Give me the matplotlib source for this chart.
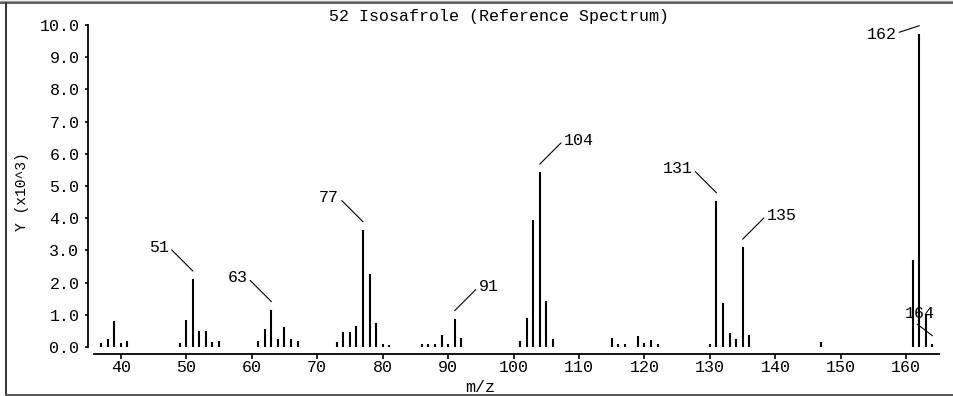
import matplotlib
matplotlib.use('Agg')
import matplotlib.pyplot as plt
import matplotlib.transforms as mtransforms
from matplotlib.lines import Line2D

# peaks (intensity in units of 10^3)
mz = [37, 38, 39, 40, 41,
      49, 50, 51, 52, 53, 54, 55,
      61, 62, 63, 64, 65, 66, 67,
      73, 74, 75, 76, 77, 78, 79, 80, 81,
      86, 87, 88, 89, 90, 91, 92,
      101, 102, 103, 104, 105, 106,
      115, 116, 117, 119, 120, 121, 122,
      130, 131, 132, 133, 134, 135, 136,
      147,
      161, 162, 163, 164]
intensity = [0.12, 0.25, 0.80, 0.12, 0.20,
             0.12, 0.85, 2.11, 0.49, 0.49, 0.15, 0.20,
             0.20, 0.56, 1.16, 0.25, 0.61, 0.25, 0.20,
             0.16, 0.47, 0.47, 0.65, 3.64, 2.26, 0.75, 0.10, 0.05,
             0.10, 0.10, 0.10, 0.36, 0.10, 0.88, 0.29,
             0.18, 0.90, 3.95, 5.43, 1.44, 0.25,
             0.28, 0.10, 0.10, 0.35, 0.13, 0.23, 0.10,
             0.10, 4.54, 1.38, 0.42, 0.24, 3.10, 0.36,
             0.16,
             2.69, 9.73, 1.03, 0.10]

labelled = [51, 63, 77, 91, 104, 131, 135, 162, 164]
title = '52 Isosafrole (Reference Spectrum)'
xticks = list(range(40, 161, 10))
yticks = list(range(0, 11))

# label placement: offset in pixels from anchor, alignment, where the leader starts
label_style = {
    51: (-24, 24, 'right', (1, 0.5)),
    63: (-24, 24, 'right', (1, 0.5)),
    77: (-24, 24, 'right', (1, 0.5)),
    91: (24, 24, 'left', (0, 0.5)),
    104: (24, 24, 'left', (0, 0.5)),
    131: (-24, 24, 'right', (1, 0.5)),
    135: (24, 24, 'left', (0, 0.5)),
    162: (-23, -9, 'right', (1, 0.6)),
    164: (-13, 22, 'center', (0.3, 0.0)),
}

plt.rcParams['font.family'] = 'Liberation Mono'
plt.rcParams['font.size'] = 12

W, H = 954, 396
fig = plt.figure(figsize=(W / 100, H / 100), dpi=100)
ax = fig.add_axes([94 / W, (H - 347) / H, 845 / W, 322 / H])

ax.vlines(mz, 0, intensity, color='black', lw=1.5)

ax.set_xlim(35.9, 165.0)
ax.set_ylim(0, 10)
ax.set_xticks(xticks)
ax.set_yticks(yticks)
ax.set_yticklabels(['%.1f' % v for v in yticks])

for s in ['top', 'right']:
    ax.spines[s].set_visible(False)
ax.spines['left'].set_position(('outward', 4))
ax.spines['bottom'].set_position(('outward', 5))
for s in ['left', 'bottom']:
    ax.spines[s].set_linewidth(1.3)
ax.tick_params(axis='x', length=3.5, width=1.2, pad=1, labelsize=12)
ax.tick_params(axis='y', length=2.5, width=1.2, pad=4, labelsize=12)

# peak labels with leader lines
anchor = mtransforms.offset_copy(ax.transData, fig=fig, x=0, y=8, units='dots')
for m in labelled:
    v = intensity[mz.index(m)]
    dx, dy, ha, rp = label_style[m]
    ax.annotate(str(m), xy=(m, v), xycoords=anchor,
                xytext=(dx, dy), textcoords='offset pixels',
                ha=ha, va='center', fontsize=12,
                arrowprops=dict(arrowstyle='-', color='black', lw=0.8,
                                shrinkA=0, shrinkB=0, relpos=rp))

fig.text(499 / W, 1 - 16 / H, title, ha='center', va='center', fontsize=12)
fig.text(480 / W, 1 - 387 / H, 'm/z', ha='center', va='center', fontsize=12)
fig.text(22 / W, 1 - 192 / H, 'Y (x10^3)', ha='center', va='center',
         rotation=90, fontsize=10.5)

# window frame
fig.add_artist(Line2D([0, 1], [1 - 0.5 / H, 1 - 0.5 / H], color='#9a9a9a', lw=1.0, transform=fig.transFigure))
fig.add_artist(Line2D([0, 1], [1 - 2.5 / H, 1 - 2.5 / H], color='#444444', lw=1.2, transform=fig.transFigure))
fig.add_artist(Line2D([6.5 / W, 6.5 / W], [1 - 3 / H, 1 - 395 / H], color='#333333', lw=1.4, transform=fig.transFigure))
fig.add_artist(Line2D([6 / W, 1], [1 - 394.5 / H, 1 - 394.5 / H], color='#555555', lw=1.4, transform=fig.transFigure))

fig.savefig('out.png', dpi=100)
